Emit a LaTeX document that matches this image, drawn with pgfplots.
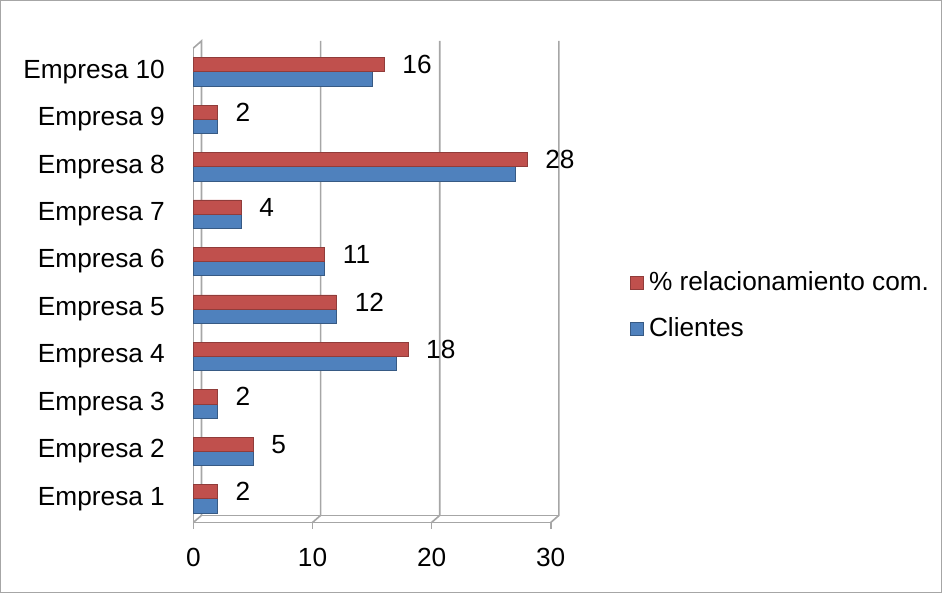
\documentclass[border=0pt]{standalone}
\usepackage{pgfplots}
\pgfplotsset{compat=1.18}
\usepackage{fontspec}
\setmainfont{Liberation Sans}
\usetikzlibrary{calc}
\definecolor{xred}{HTML}{C0504D}
\definecolor{xblue}{HTML}{4F81BD}
\definecolor{gridgray}{HTML}{A6A6A6}
\pgfplotstableread{
y clientes rel
1 2 2
2 5 5
3 2 2
4 17 18
5 12 12
6 11 11
7 4 4
8 27 28
9 2 2
10 15 16
}\datatable
\begin{document}
\fontsize{19.5pt}{23pt}\selectfont
\begin{tikzpicture}
\begin{axis}[
  scale only axis,
  width=265.5pt, height=352.5pt,
  xmin=0, xmax=30, ymin=0.5, ymax=10.5,
  xbar, bar width=10.5pt,
  axis x line*=bottom, axis y line*=left,
  axis line style={gridgray, line width=1.2pt},
  xtick={0,10,20,30},
  ytick={1,...,10},
  yticklabels={Empresa 1,Empresa 2,Empresa 3,Empresa 4,Empresa 5,Empresa 6,Empresa 7,Empresa 8,Empresa 9,Empresa 10},
  minor ytick={0.5,1.5,...,10.5},
  major tick length=4.5pt,
  tick style={gridgray, line width=1.2pt},
  ytick style={draw=none},
  minor tick style={gridgray, line width=1.2pt},
  minor tick length=4.5pt,
  tick align=outside,
  /pgf/number format/assume math mode=true,
  tick label style={font=\fontsize{19.5pt}{23pt}\selectfont},
  yticklabel style={xshift=-10pt},
  xticklabel style={yshift=-8pt},
  reverse legend,
  legend style={at={(rel axis cs:1.22,0.457)}, anchor=west, draw=none, fill=none,
    font=\fontsize{19.5pt}{23pt}\selectfont, row sep=13pt, inner sep=0pt},
  legend cell align=left,
  legend image code/.code={\fill[#1] (0pt,-4.9pt) rectangle (9.75pt,4.9pt); \path (12pt,0pt);},
  clip=false,
  name=ax,
]
\pgfplotsinvokeforeach{10,20,30}{
  \draw[gridgray, line width=1.2pt] (axis cs:#1,0.5) -- ([shift={(6pt,5.25pt)}]axis cs:#1,0.5) -- ([shift={(6pt,5.25pt)}]axis cs:#1,10.5);
}
\draw[gridgray, line width=1.2pt] (axis cs:0,0.5) -- ([shift={(6pt,5.25pt)}]axis cs:0,0.5) -- ([shift={(6pt,5.25pt)}]axis cs:0,10.5) -- (axis cs:0,10.5);
\draw[gridgray, line width=1.2pt] ([shift={(6pt,5.25pt)}]axis cs:0,0.5) -- ([shift={(6pt,5.25pt)}]axis cs:30,0.5);
\addplot[fill=xblue, draw=xblue!70!black, line width=0.4pt, bar shift=-5.25pt] table[x=clientes, y=y] {\datatable};
\addlegendentry{Clientes}
\addplot[fill=xred, draw=xred!75!black, line width=0.4pt, bar shift=5.25pt,
  nodes near coords, nodes near coords align={horizontal},
  every node near coord/.append style={font=\fontsize{19.5pt}{23pt}\selectfont, black, xshift=7pt}] table[x=rel, y=y] {\datatable};
\addlegendentry{\% relacionamiento com.}
\coordinate (O) at (rel axis cs:0,0);
\end{axis}
\draw[gridgray, line width=0.9pt] ([shift={(-143.25pt,-51.75pt)}]O) rectangle ([shift={(555.75pt,387.75pt)}]O);
\end{tikzpicture}
\end{document}
